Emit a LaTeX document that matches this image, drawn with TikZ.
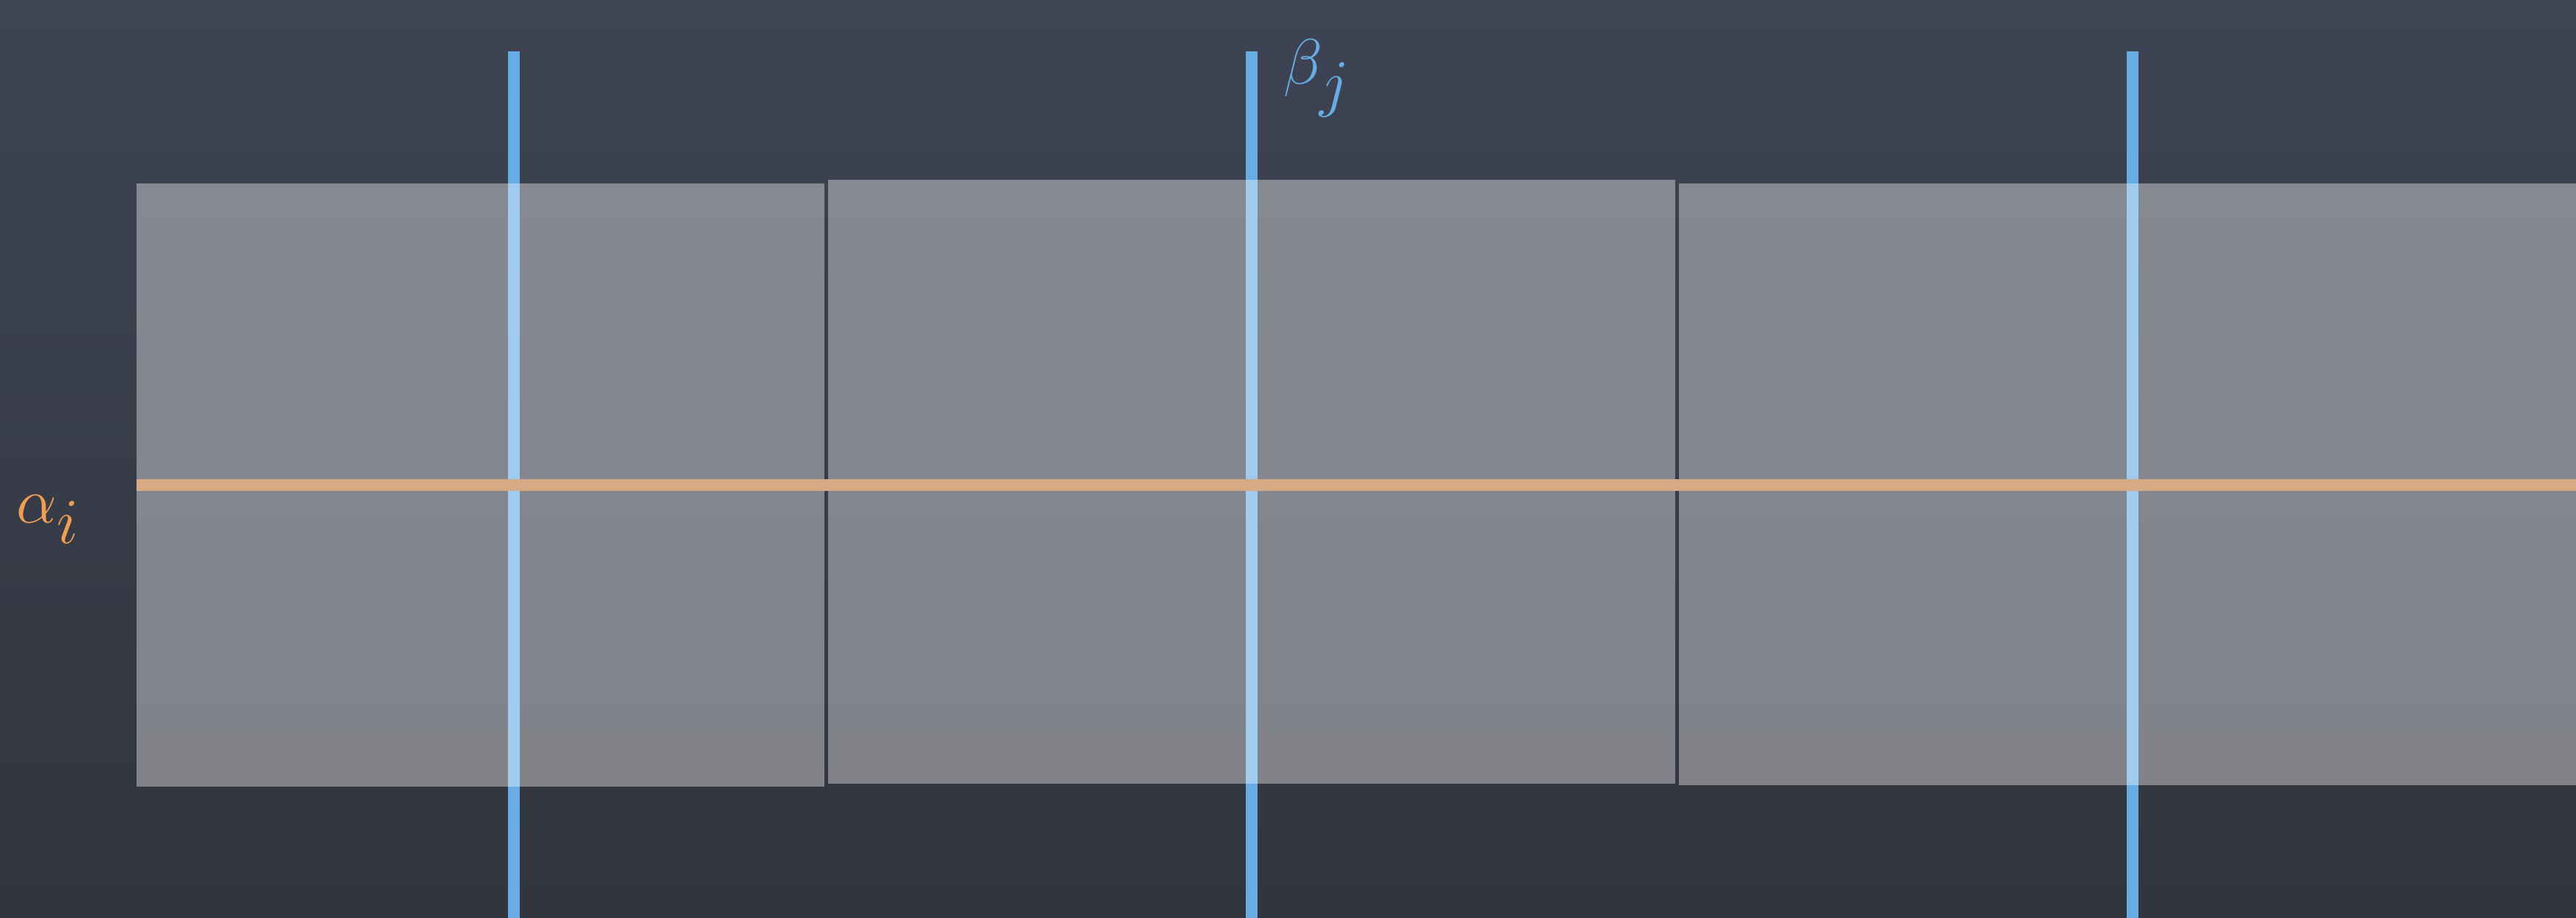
\documentclass[tikz,border=0pt]{standalone}
\usepackage{tikz}
\usepackage{amsmath}
\usetikzlibrary{}

\definecolor{board}{RGB}{62,68,84}
\definecolor{boarddark}{RGB}{50,53,62}
\definecolor{chalkblue}{RGB}{104,172,228}
\definecolor{chalktan}{RGB}{214,170,132}
\definecolor{labelorange}{RGB}{240,158,80}

\begin{document}
\begin{tikzpicture}[
        bline/.style={line width=4.3pt,chalkblue},
        oline/.style={line width=4.3pt,chalktan},
        sheet/.style={fill=white,fill opacity=0.38},
        lbl/.style={anchor=base west,inner sep=0,font=\fontsize{48}{56}\selectfont}
    ]
        % Background
        \shade[top color=board,bottom color=boarddark] (0,0) rectangle (35.09,12.51);
        \useasboundingbox (0,0) rectangle (35.09,12.51);

        % Blue lines (under the sheets)
        \foreach \x/\n in {7.00/1,17.05/2,29.05/3} {
            \coordinate (btop\n) at (\x,11.81);
            \coordinate (bbot\n) at (\x,0);
            \draw[bline] (btop\n) -- (bbot\n);
        }

        % Sheets
        \fill[sheet] (1.86,1.79) rectangle (11.23,10.01);
        \fill[sheet] (11.28,1.83) rectangle (22.82,10.06);
        \fill[sheet] (22.87,1.81) rectangle (35.09,10.01);

        % Orange line
        \coordinate (oleft) at (1.86,5.90);
        \coordinate (oright) at (35.09,5.90);
        \draw[oline] (oleft) -- (oright);

        % Labels
        \node[lbl,labelorange] (alpha) at (0.22,5.38) {$\alpha_i$};
        \node[lbl,chalkblue] (beta) at (17.48,11.36) {$\beta_j$};
    \end{tikzpicture}
\end{document}
